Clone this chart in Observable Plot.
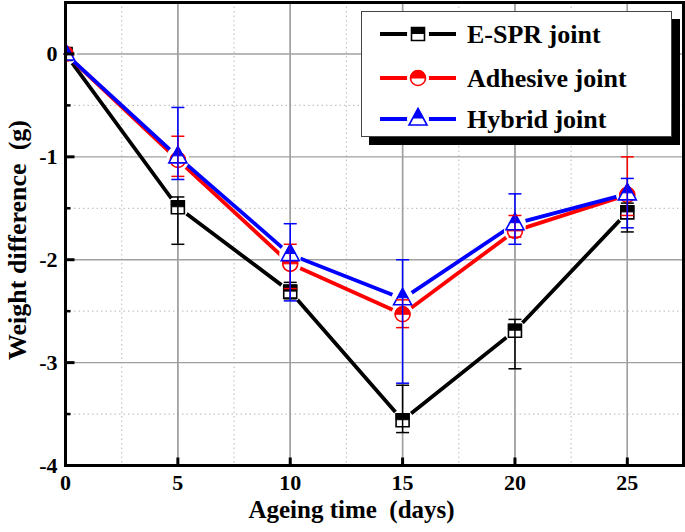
<!DOCTYPE html>
<html><head><meta charset="utf-8">
<script src="https://cdn.jsdelivr.net/npm/d3@7"></script>
<script src="https://cdn.jsdelivr.net/npm/@observablehq/plot@0.6"></script>
<style>
html,body{margin:0;padding:0;background:#fff;}
#wrap{position:relative;width:685px;height:532px;}
svg text{white-space:pre;}
#legend{position:absolute;left:361px;top:11px;width:311px;height:126px;box-sizing:border-box;border:1.5px solid #444;background:#fff;box-shadow:8px 8px 0 #000;}
</style></head><body><div id="wrap"></div>
<script>
// ---- data ----
const days = [0, 5, 10, 15, 20, 25];
const seriesNames = ["E-SPR joint", "Adhesive joint", "Hybrid joint"];
const seriesColors = ["#000000", "#ff0000", "#0000ff"];
const esprMean = [0, -1.49, -2.31, -3.56, -2.69, -1.54];
const esprLow  = [0, -1.85, -2.38, -3.68, -3.06, -1.73];
const esprHigh = [0, -1.39, -2.22, -3.22, -2.58, -1.45];
const adhMean  = [0, -1.03, -2.04, -2.53, -1.72, -1.37];
const adhLow   = [0, -1.19, -2.28, -2.66, -1.78, -1.57];
const adhHigh  = [0, -0.80, -1.85, -2.39, -1.57, -1.00];
const hybMean  = [0, -1.00, -1.95, -2.38, -1.65, -1.36];
const hybLow   = [0, -1.22, -2.40, -3.20, -1.85, -1.69];
const hybHigh  = [0, -0.52, -1.65, -2.00, -1.36, -1.21];
const xMajor = [0, 5, 10, 15, 20, 25];
const xGridMajor = [5, 10, 15, 20, 25];
const xGridMinor = [2.5, 7.5, 12.5, 17.5, 22.5];
const yMajor = [0, -1, -2, -3, -4];
const yGridMajor = [0, -1, -2, -3];
const yMinor = [-0.5, -1.5, -2.5, -3.5];
const xTitle = "Ageing time  (days)";
const yTitle = "Weight difference  (g)";

const means = [esprMean, adhMean, hybMean];
const lows = [esprLow, adhLow, hybLow];
const highs = [esprHigh, adhHigh, hybHigh];
const rows = [];
seriesNames.forEach((s, i) => days.forEach((d, j) => rows.push({series: s, idx: i, day: d, mean: means[i][j], low: lows[i][j], high: highs[i][j]})));

// ---- symbols ----
const sym = {
  squareOut: {draw(c){ c.rect(-6.5, -6.5, 13, 13); }},
  squareTop: {draw(c){ c.rect(-6.5, -6.5, 13, 6); }},
  circleOut: {draw(c){ c.moveTo(7.5, 0); c.arc(0, 0, 7.5, 0, 2 * Math.PI); }},
  circleTop: {draw(c){ c.moveTo(7.5, 0); c.arc(0, 0, 7.5, 0, Math.PI, true); c.closePath(); }},
  triOut: {draw(c){ c.moveTo(0, -10.5); c.lineTo(9, 6); c.lineTo(-9, 6); c.closePath(); }},
  triTop: {draw(c){ c.moveTo(0, -10.5); c.lineTo(5.2, -1); c.lineTo(-5.2, -1); c.closePath(); }},
  cap: {draw(c){ c.moveTo(-6.5, 0); c.lineTo(6.5, 0); }},
  tickUp: {draw(c){ c.moveTo(0, 0); c.lineTo(0, -8); }},
  tickRight: {draw(c){ c.moveTo(0, 0); c.lineTo(9, 0); }},
  tickRightMinor: {draw(c){ c.moveTo(0, 0); c.lineTo(5, 0); }}
};
const outlines = [sym.squareOut, sym.circleOut, sym.triOut];
const tops = [sym.squareTop, sym.circleTop, sym.triTop];

const font = "'Liberation Serif','Times New Roman',serif";
const marks = [
  Plot.ruleY(yMinor, {stroke: "#c4c4c4", strokeWidth: 1.2, strokeDasharray: "1.5,3"}),
  Plot.ruleX(xGridMinor, {stroke: "#c4c4c4", strokeWidth: 1.2, strokeDasharray: "1.5,3"}),
  Plot.ruleY(yGridMajor, {stroke: "#a0a0a0", strokeWidth: 1.4}),
  Plot.ruleX(xGridMajor, {stroke: "#a0a0a0", strokeWidth: 1.4}),
  Plot.line(rows, {x: "day", y: "mean", z: "series", stroke: "series", strokeWidth: 3.8}),
  Plot.dot(rows, {x: "day", y: "mean", r: 11, fill: "white", stroke: null, clip: true}),
  Plot.ruleX(xGridMajor, {stroke: "#a0a0a0", strokeWidth: 1.4})
];
seriesNames.forEach((s, i) => {
  const d = rows.filter(r => r.idx === i);
  marks.push(
    Plot.dot(d, {x: "day", y: "mean", r: 8, symbol: outlines[i], fill: "white", stroke: seriesColors[i], strokeWidth: 1.6, clip: true}),
    Plot.dot(d, {x: "day", y: "mean", r: 8, symbol: tops[i], fill: seriesColors[i], stroke: seriesColors[i], strokeWidth: 1, clip: true})
  );
});
seriesNames.forEach((s, i) => {
  const d = rows.filter(r => r.idx === i && r.day > 0);
  marks.push(
    Plot.ruleX(d, {x: "day", y1: "low", y2: "high", stroke: seriesColors[i], strokeWidth: 1.5}),
    Plot.dot(d, {x: "day", y: "low", r: 6, symbol: sym.cap, fill: "none", stroke: seriesColors[i], strokeWidth: 1.5}),
    Plot.dot(d, {x: "day", y: "high", r: 6, symbol: sym.cap, fill: "none", stroke: seriesColors[i], strokeWidth: 1.5})
  );
});
marks.push(
  Plot.frame({stroke: "black", strokeWidth: 3}),
  Plot.dot(xMajor, {x: d => d, frameAnchor: "bottom", r: 5, symbol: sym.tickUp, fill: "none", stroke: "black", strokeWidth: 3}),
  Plot.dot(yMajor, {y: d => d, frameAnchor: "left", r: 5, symbol: sym.tickRight, fill: "none", stroke: "black", strokeWidth: 3}),
  Plot.dot(yMinor, {y: d => d, frameAnchor: "left", r: 5, symbol: sym.tickRightMinor, fill: "none", stroke: "black", strokeWidth: 2.5}),
  Plot.axisX({ticks: xMajor, tickSize: 0, tickPadding: 9, label: null, tickFormat: d => String(d), fontSize: 22, fontWeight: "bold", fill: "black"}),
  Plot.axisY({ticks: yMajor, tickSize: 0, tickPadding: 8, label: null, tickFormat: d => String(d), fontSize: 22, fontWeight: "bold", fill: "black"}),
  Plot.text([xTitle], {frameAnchor: "bottom", text: d => d, textAnchor: "middle", dx: -23, dy: 52, fontSize: 25, fontWeight: "bold", fill: "black"}),
  Plot.text([yTitle], {frameAnchor: "left", text: d => d, textAnchor: "middle", rotate: -90, dx: -48, dy: 6, fontSize: 26, fontWeight: "bold", fill: "black"})
);

const chart = Plot.plot({
  width: 685, height: 532,
  marginLeft: 65, marginRight: 2, marginTop: 2, marginBottom: 67,
  x: {domain: [0, 27.5], axis: null},
  y: {domain: [-4, 0.5], axis: null},
  color: {domain: seriesNames, range: seriesColors},
  style: {fontFamily: font, fontWeight: "bold", background: "white", color: "black"},
  marks
});
const wrap = document.getElementById("wrap");
wrap.appendChild(chart);

// ---- legend ----
const leg = document.createElement("div");
leg.id = "legend";
wrap.appendChild(leg);
const lsvg = d3.select(leg).append("svg").attr("width", 308).attr("height", 123).style("display", "block");
const rowY = [22, 66, 107];
function pathOf(s){ const p = d3.path(); s.draw(p); return p.toString(); }
seriesNames.forEach((s, i) => {
  const g = lsvg.append("g").attr("transform", `translate(0,${rowY[i]})`);
  g.append("line").attr("x1", 18).attr("x2", 94).attr("y1", 0).attr("y2", 0).attr("stroke", seriesColors[i]).attr("stroke-width", 3.8);
  g.append("circle").attr("cx", 56).attr("r", 11).attr("fill", "white");
  g.append("path").attr("transform", "translate(56,0)").attr("d", pathOf(outlines[i])).attr("fill", "white").attr("stroke", seriesColors[i]).attr("stroke-width", 1.6);
  g.append("path").attr("transform", "translate(56,0)").attr("d", pathOf(tops[i])).attr("fill", seriesColors[i]).attr("stroke", seriesColors[i]).attr("stroke-width", 1);
  g.append("text").attr("x", 105).attr("y", 9).text(s).attr("font-family", font).attr("font-weight", "bold").attr("font-size", 26).attr("fill", "black");
});
</script></body></html>
